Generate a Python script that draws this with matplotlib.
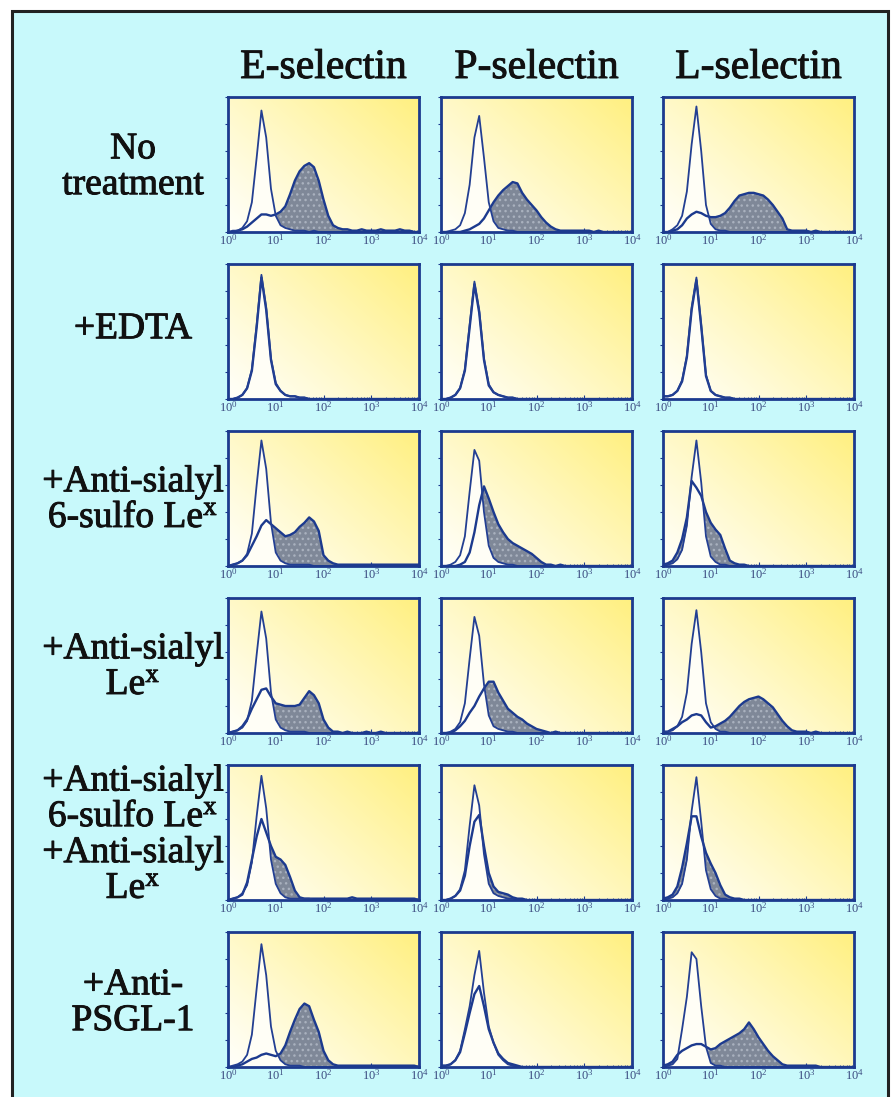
import numpy as np
import matplotlib
matplotlib.use("Agg")
import matplotlib.pyplot as plt
from matplotlib.patches import Rectangle
from matplotlib.ticker import LogLocator, NullFormatter
import matplotlib.patheffects as pe

plt.rcParams['mathtext.fontset'] = 'custom'
plt.rcParams['mathtext.rm'] = 'Liberation Serif'
plt.rcParams['mathtext.it'] = 'Liberation Serif:italic'

# ---------------- data ----------------
columns = ["E-selectin", "P-selectin", "L-selectin"]
row_labels = [
    "No\ntreatment",
    "+EDTA",
    "+Anti-sialyl\n6-sulfo Le$^{\\mathrm{x}}$",
    "+Anti-sialyl\nLe$^{\\mathrm{x}}$",
    "+Anti-sialyl\n6-sulfo Le$^{\\mathrm{x}}$\n+Anti-sialyl\nLe$^{\\mathrm{x}}$",
    "+Anti-\nPSGL-1",
]
# log10 fluorescence bins (decades), 0.1 decade steps from 10^0 to 10^4
log_bins = np.round(np.arange(0, 41) * 0.1, 1)
tick_labels = ["$10^{0}$", "$10^{1}$", "$10^{2}$", "$10^{3}$", "$10^{4}$"]

# cell counts as % of panel height; "ctrl" = open histogram, "stain" = filled histogram
r1_e_ctrl = [0,1,1,3,8,22,55,90,70,32, 12,5,3,2,1,1,1,0,1,0, 0,0,0,0,0,0,0,0,0,0, 0,0,0,0,0,0,0,0,0,0, 0]
r1_e_stain = [0,0,1,2,4,7,10,13,13,12, 13,15,19,28,38,45,49,51,48,38, 24,12,5,3,2,2,1,1,2,1, 1,1,2,1,1,1,2,1,1,0, 0]
r1_p_ctrl = [0,0,1,2,5,14,35,70,86,55, 22,8,3,2,1,1,0,0,0,0, 0,0,0,0,0,0,0,0,0,0, 0,0,0,0,0,0,0,0,0,0, 0]
r1_p_stain = [0,0,0,0,0,1,2,4,6,10, 16,22,27,31,34,37,36,29,24,20, 16,11,7,4,2,1,1,1,1,1, 1,1,0,1,0,0,0,0,0,0, 0]
r1_l_ctrl = [0,0,2,5,12,30,65,93,60,20, 6,2,1,1,0,0,0,0,0,0, 0,0,0,0,0,0,0,0,0,0, 0,0,0,0,0,0,0,0,0,0, 0]
r1_l_stain = [0,0,1,2,5,10,13,15,14,12, 11,11,12,14,18,23,27,28,29,29, 28,27,24,20,15,10,2,1,1,1, 1,0,1,0,0,0,0,0,0,0, 0]

r2_e_ctrl = [0,0,1,3,8,22,55,92,68,30, 12,6,3,2,2,1,1,0,0,0, 0,0,0,0,0,0,0,0,0,0, 0,0,0,0,0,0,0,0,0,0, 0]
r2_e_stain = [0,0,1,3,8,21,53,90,66,29, 11,6,3,2,2,1,1,0,0,0, 0,0,0,0,0,0,0,0,0,0, 0,0,0,0,0,0,0,0,0,0, 0]
r2_p_ctrl = [0,0,1,3,8,22,55,87,66,30, 11,5,3,2,1,1,0,0,0,0, 0,0,0,0,0,0,0,0,0,0, 0,0,0,0,0,0,0,0,0,0, 0]
r2_p_stain = [0,0,1,3,8,21,53,85,64,29, 10,5,3,2,1,1,0,0,0,0, 0,0,0,0,0,0,0,0,0,0, 0,0,0,0,0,0,0,0,0,0, 0]
r2_l_ctrl = [2,2,3,6,14,32,68,90,55,18, 6,3,2,1,1,0,0,0,0,0, 0,0,0,0,0,0,0,0,0,0, 0,0,0,0,0,0,0,0,0,0, 0]
r2_l_stain = [2,2,3,6,13,31,66,88,54,17, 6,3,2,1,1,0,0,0,0,0, 0,0,0,0,0,0,0,0,0,0, 0,0,0,0,0,0,0,0,0,0, 0]

r3_e_ctrl = [0,1,2,4,9,24,60,93,72,32, 10,4,2,1,1,1,1,1,0,0, 0,0,0,0,0,0,0,0,0,0, 0,0,0,0,0,0,0,0,0,0, 0]
r3_e_stain = [0,1,2,4,8,15,22,30,34,31, 28,25,22,23,25,29,32,36,33,26, 8,4,2,1,1,1,1,1,1,1, 1,1,1,1,1,1,1,1,1,1, 1]
r3_p_ctrl = [0,0,1,3,8,22,55,86,78,40, 15,6,3,2,1,1,0,0,0,0, 0,0,0,0,0,0,0,0,0,0, 0,0,0,0,0,0,0,0,0,0, 0]
r3_p_stain = [0,0,0,0,1,3,10,25,45,59, 50,40,31,25,20,17,15,13,11,9, 6,3,1,1,0,1,0,0,0,0, 0,0,0,0,0,0,0,0,0,0, 0]
r3_l_ctrl = [0,1,2,5,12,30,66,93,62,22, 7,3,1,1,0,0,0,0,0,0, 0,0,0,0,0,0,0,0,0,0, 0,0,0,0,0,0,0,0,0,0, 0]
r3_l_stain = [1,2,4,10,20,36,63,58,52,40, 32,27,23,13,4,2,1,1,0,0, 0,0,0,0,0,0,0,0,0,0, 0,0,0,0,0,0,0,0,0,0, 0]

r4_e_ctrl = [0,1,2,4,9,24,58,90,70,30, 10,4,2,1,1,1,1,0,0,0, 0,0,0,0,0,0,0,0,0,0, 0,0,0,0,0,0,0,0,0,0, 0]
r4_e_stain = [0,1,2,5,10,18,25,32,33,27, 22,21,20,20,20,21,26,31,28,22, 10,4,1,1,0,1,0,0,0,1, 0,0,1,0,0,0,0,0,0,0, 0]
r4_p_ctrl = [0,0,1,3,8,22,55,86,72,36, 13,5,3,2,1,1,0,0,0,0, 0,0,0,0,0,0,0,0,0,0, 0,0,0,0,0,0,0,0,0,0, 0]
r4_p_stain = [0,0,0,2,5,9,15,20,27,33, 38,38,30,24,18,15,12,10,7,5, 3,2,1,0,1,0,0,0,0,0, 0,0,0,0,0,0,0,0,0,0, 0]
r4_l_ctrl = [0,1,2,5,12,30,66,91,60,22, 8,3,1,1,0,0,0,0,0,0, 0,0,0,0,0,0,0,0,0,0, 0,0,0,0,0,0,0,0,0,0, 0]
r4_l_stain = [1,1,3,5,8,10,13,14,13,8, 4,5,7,9,12,16,20,23,25,26, 27,25,22,19,14,9,5,2,1,1, 1,0,1,0,0,0,0,0,0,0, 0]

r5_e_ctrl = [0,1,2,5,11,28,62,92,68,30, 12,5,2,1,1,1,1,1,0,0, 0,0,0,0,0,0,0,0,0,0, 0,0,0,0,0,0,0,0,0,0, 0]
r5_e_stain = [0,1,2,4,13,30,47,60,50,40, 32,30,26,17,7,2,1,1,1,1, 1,1,1,1,1,1,2,1,1,1, 1,1,1,1,1,1,1,1,1,1, 0]
r5_p_ctrl = [0,0,1,3,8,22,55,85,70,34, 12,5,3,2,1,1,0,0,0,0, 0,0,0,0,0,0,0,0,0,0, 0,0,0,0,0,0,0,0,0,0, 0]
r5_p_stain = [0,0,1,3,7,18,40,58,63,40, 20,10,6,5,4,2,1,1,0,0, 0,0,0,0,0,0,0,0,0,0, 0,0,0,0,0,0,0,0,0,0, 0]
r5_l_ctrl = [0,1,2,5,12,30,66,91,58,22, 8,3,1,1,0,0,0,0,0,0, 0,0,0,0,0,0,0,0,0,0, 0,0,0,0,0,0,0,0,0,0, 0]
r5_l_stain = [1,2,4,10,24,42,62,62,47,35, 27,20,11,4,2,1,1,0,0,0, 0,0,0,0,0,0,0,0,0,0, 0,0,0,0,0,0,0,0,0,0, 0]

r6_e_ctrl = [0,1,2,4,9,24,58,91,68,30, 12,5,2,1,1,1,0,0,0,0, 0,0,0,0,0,0,0,0,0,0, 0,0,0,0,0,0,0,0,0,0, 0]
r6_e_stain = [0,0,1,2,4,6,7,9,10,9, 8,10,16,26,35,43,47,45,35,26, 12,5,2,1,1,1,1,1,1,1, 1,1,1,1,1,1,1,1,1,1, 0]
r6_p_ctrl = [1,1,2,5,12,28,45,68,86,55, 30,18,9,5,2,1,0,0,0,0, 0,0,0,0,0,0,0,0,0,0, 0,0,0,0,0,0,0,0,0,0, 0]
r6_p_stain = [1,1,2,5,11,25,40,54,60,45, 28,18,10,6,3,2,1,0,0,0, 0,0,0,0,0,0,0,0,0,0, 0,0,0,0,0,0,0,0,0,0, 0]
r6_l_ctrl = [0,1,2,6,28,52,85,80,45,15, 3,1,1,0,0,0,0,0,0,0, 0,0,0,0,0,0,0,0,0,0, 0,0,0,0,0,0,0,0,0,0, 0]
r6_l_stain = [1,2,4,9,12,14,16,17,17,15, 13,14,17,19,21,23,25,28,33,28, 22,17,12,8,5,2,1,1,1,1, 1,1,1,0,0,0,0,0,0,0, 0]

panels = [
    [(r1_e_ctrl, r1_e_stain), (r1_p_ctrl, r1_p_stain), (r1_l_ctrl, r1_l_stain)],
    [(r2_e_ctrl, r2_e_stain), (r2_p_ctrl, r2_p_stain), (r2_l_ctrl, r2_l_stain)],
    [(r3_e_ctrl, r3_e_stain), (r3_p_ctrl, r3_p_stain), (r3_l_ctrl, r3_l_stain)],
    [(r4_e_ctrl, r4_e_stain), (r4_p_ctrl, r4_p_stain), (r4_l_ctrl, r4_l_stain)],
    [(r5_e_ctrl, r5_e_stain), (r5_p_ctrl, r5_p_stain), (r5_l_ctrl, r5_l_stain)],
    [(r6_e_ctrl, r6_e_stain), (r6_p_ctrl, r6_p_stain), (r6_l_ctrl, r6_l_stain)],
]

# ---------------- layout / style ----------------
W, H = 896, 1097
fig = plt.figure(figsize=(W / 100, H / 100), dpi=100)
fig.patch.set_facecolor("white")

CYAN = "#c8f9fb"
BLUE = "#1c3a8e"
LINE_BLUE = "#233f92"
GRAY = "#7f8898"
SERIF = "Liberation Serif"
bold_fx = [pe.withStroke(linewidth=0.7, foreground="#111111")]

def px(x, y):
    return x / W, 1 - y / H

# cyan framed background
bg = Rectangle(px(12, 1105), (888 - 12) / W, (1105 - 11) / H, transform=fig.transFigure,
               facecolor=CYAN, edgecolor="#222222", linewidth=2.2, zorder=-10)
fig.patches.append(bg)

col_left = [228, 441, 663]
col_w = 191
row_top = [97, 264, 431, 598, 765, 932]
row_h = 135

# gradient: white in lower-left to yellow at upper-right
gx, gy = np.meshgrid(np.linspace(0, 1, 200), np.linspace(0, 1, 150))
t = np.clip((gx + 0.8 * gy) / 1.8, 0, 1) ** 1.1
white = np.array([1.0, 1.0, 0.98])
yellow = np.array([1.0, 0.94, 0.50])
grad = white[None, None, :] * (1 - t[..., None]) + yellow[None, None, :] * t[..., None]

xvals = 10.0 ** log_bins

for r in range(6):
    for c in range(3):
        l = col_left[c]
        tpx = row_top[r]
        x0, y0 = px(l, tpx + row_h)
        ax = fig.add_axes([x0, y0, col_w / W, row_h / H], zorder=1)
        ax.imshow(grad, extent=[0, 1, 0, 1], transform=ax.transAxes, origin="lower",
                  aspect="auto", zorder=0, interpolation="bilinear")
        ctrl, stain = panels[r][c]
        ctrl = np.array(ctrl, float)
        stain = np.array(stain, float)
        ax.fill_between(xvals, 0, stain, color=GRAY, lw=0, zorder=2)
        ax.fill_between(xvals, 0, stain, facecolor="none", edgecolor="#a9b1be",
                        hatch="...", lw=0, zorder=2.1)
        ax.fill_between(xvals, 0, ctrl, color="#fffef6", lw=0, zorder=3)
        ax.plot(xvals, stain, color=BLUE, lw=1.7, zorder=4)
        ax.plot(xvals, ctrl, color=LINE_BLUE, lw=1.3, zorder=5)
        ax.set_xscale("log")
        ax.set_xlim(1, 1e4)
        ax.set_ylim(0, 100)
        ax.set_xticks([1, 10, 100, 1000, 10000])
        ax.set_xticklabels(tick_labels)
        ax.xaxis.set_minor_locator(LogLocator(base=10, subs=np.arange(2, 10)))
        ax.xaxis.set_minor_formatter(NullFormatter())
        ax.set_yticks(np.linspace(0, 100, 6))
        ax.set_yticklabels([])
        ax.tick_params(axis="x", which="major", length=3, width=0.8, color=BLUE,
                       labelsize=9, labelcolor="#3a4a80", pad=1.0, direction="in")
        ax.tick_params(axis="x", which="minor", length=1.8, width=0.6, color=BLUE,
                       direction="in")
        ax.tick_params(axis="y", length=2.5, width=0.8, color=BLUE, direction="out")
        for sp in ax.spines.values():
            sp.set_color(BLUE)
            sp.set_linewidth(2.0)
            sp.set_zorder(6)

# column headers
col_centers = [l + col_w / 2 for l in col_left]
for c, name in enumerate(columns):
    x, y = px(col_centers[c], 78)
    fig.text(x, y, name, ha="center", va="baseline", fontsize=30, family=SERIF,
             color="#111111", path_effects=bold_fx)

# row labels
row_centers = [167, 329, 500, 667, 835, 1003]
for r, lab in enumerate(row_labels):
    x, y = px(133, row_centers[r])
    fig.text(x, y, lab, ha="center", va="center", fontsize=27, family=SERIF,
             color="#111111", linespacing=1.05, multialignment="center",
             path_effects=bold_fx)

fig.savefig("out.png", dpi=100)
